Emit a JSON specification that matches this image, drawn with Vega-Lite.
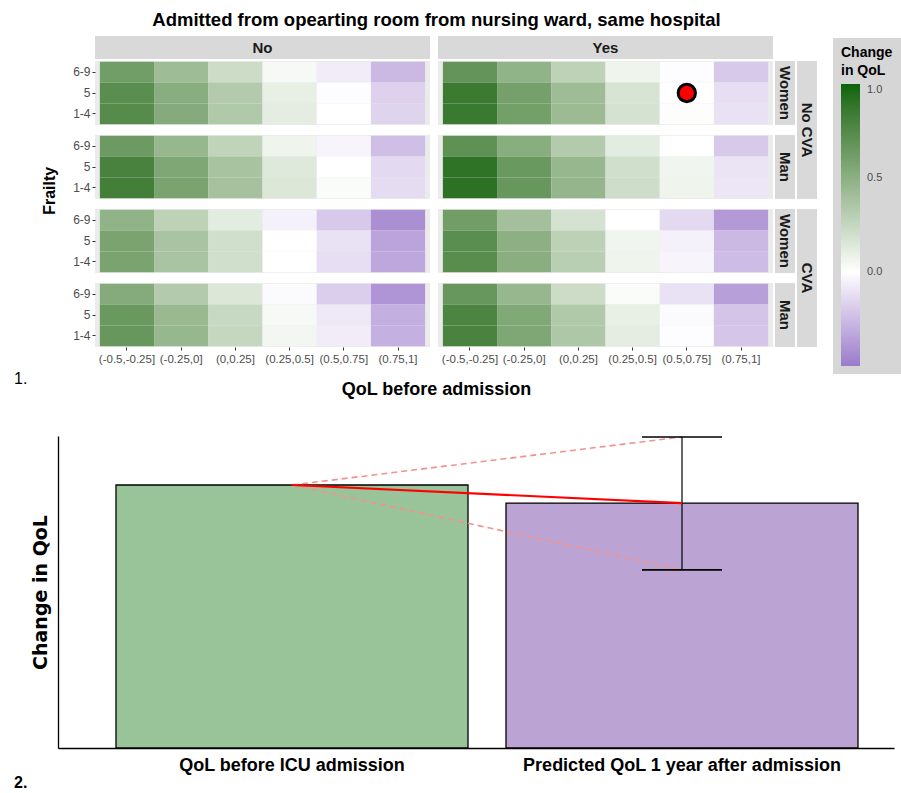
{
  "$schema": "https://vega.github.io/schema/vega-lite/v6.json",
  "background": "#ffffff",
  "padding": {"left": 14, "top": 10, "right": 0, "bottom": 0},
  "spacing": 34,
  "datasets": {
    "nn_w": [
      {"frailty":"6-9","qol":"(-0.5,-0.25]","change":0.62},{"frailty":"6-9","qol":"(-0.25,0]","change":0.42},{"frailty":"6-9","qol":"(0,0.25]","change":0.22},{"frailty":"6-9","qol":"(0.25,0.5]","change":0.04},{"frailty":"6-9","qol":"(0.5,0.75]","change":-0.07},{"frailty":"6-9","qol":"(0.75,1]","change":-0.26},
      {"frailty":"5","qol":"(-0.5,-0.25]","change":0.72},{"frailty":"5","qol":"(-0.25,0]","change":0.52},{"frailty":"5","qol":"(0,0.25]","change":0.33},{"frailty":"5","qol":"(0.25,0.5]","change":0.10},{"frailty":"5","qol":"(0.5,0.75]","change":-0.01},{"frailty":"5","qol":"(0.75,1]","change":-0.17},
      {"frailty":"1-4","qol":"(-0.5,-0.25]","change":0.74},{"frailty":"1-4","qol":"(-0.25,0]","change":0.53},{"frailty":"1-4","qol":"(0,0.25]","change":0.34},{"frailty":"1-4","qol":"(0.25,0.5]","change":0.11},{"frailty":"1-4","qol":"(0.5,0.75]","change":0.00},{"frailty":"1-4","qol":"(0.75,1]","change":-0.16}
    ],
    "nn_m": [
      {"frailty":"6-9","qol":"(-0.5,-0.25]","change":0.64},{"frailty":"6-9","qol":"(-0.25,0]","change":0.45},{"frailty":"6-9","qol":"(0,0.25]","change":0.27},{"frailty":"6-9","qol":"(0.25,0.5]","change":0.07},{"frailty":"6-9","qol":"(0.5,0.75]","change":-0.04},{"frailty":"6-9","qol":"(0.75,1]","change":-0.24},
      {"frailty":"5","qol":"(-0.5,-0.25]","change":0.80},{"frailty":"5","qol":"(-0.25,0]","change":0.56},{"frailty":"5","qol":"(0,0.25]","change":0.38},{"frailty":"5","qol":"(0.25,0.5]","change":0.14},{"frailty":"5","qol":"(0.5,0.75]","change":0.00},{"frailty":"5","qol":"(0.75,1]","change":-0.14},
      {"frailty":"1-4","qol":"(-0.5,-0.25]","change":0.82},{"frailty":"1-4","qol":"(-0.25,0]","change":0.58},{"frailty":"1-4","qol":"(0,0.25]","change":0.39},{"frailty":"1-4","qol":"(0.25,0.5]","change":0.15},{"frailty":"1-4","qol":"(0.5,0.75]","change":0.02},{"frailty":"1-4","qol":"(0.75,1]","change":-0.13}
    ],
    "nc_w": [
      {"frailty":"6-9","qol":"(-0.5,-0.25]","change":0.48},{"frailty":"6-9","qol":"(-0.25,0]","change":0.28},{"frailty":"6-9","qol":"(0,0.25]","change":0.12},{"frailty":"6-9","qol":"(0.25,0.5]","change":-0.05},{"frailty":"6-9","qol":"(0.5,0.75]","change":-0.20},{"frailty":"6-9","qol":"(0.75,1]","change":-0.42},
      {"frailty":"5","qol":"(-0.5,-0.25]","change":0.58},{"frailty":"5","qol":"(-0.25,0]","change":0.37},{"frailty":"5","qol":"(0,0.25]","change":0.20},{"frailty":"5","qol":"(0.25,0.5]","change":0.00},{"frailty":"5","qol":"(0.5,0.75]","change":-0.11},{"frailty":"5","qol":"(0.75,1]","change":-0.34},
      {"frailty":"1-4","qol":"(-0.5,-0.25]","change":0.58},{"frailty":"1-4","qol":"(-0.25,0]","change":0.37},{"frailty":"1-4","qol":"(0,0.25]","change":0.20},{"frailty":"1-4","qol":"(0.25,0.5]","change":0.00},{"frailty":"1-4","qol":"(0.5,0.75]","change":-0.12},{"frailty":"1-4","qol":"(0.75,1]","change":-0.33}
    ],
    "nc_m": [
      {"frailty":"6-9","qol":"(-0.5,-0.25]","change":0.53},{"frailty":"6-9","qol":"(-0.25,0]","change":0.33},{"frailty":"6-9","qol":"(0,0.25]","change":0.15},{"frailty":"6-9","qol":"(0.25,0.5]","change":-0.02},{"frailty":"6-9","qol":"(0.5,0.75]","change":-0.18},{"frailty":"6-9","qol":"(0.75,1]","change":-0.40},
      {"frailty":"5","qol":"(-0.5,-0.25]","change":0.65},{"frailty":"5","qol":"(-0.25,0]","change":0.44},{"frailty":"5","qol":"(0,0.25]","change":0.24},{"frailty":"5","qol":"(0.25,0.5]","change":0.04},{"frailty":"5","qol":"(0.5,0.75]","change":-0.08},{"frailty":"5","qol":"(0.75,1]","change":-0.30},
      {"frailty":"1-4","qol":"(-0.5,-0.25]","change":0.66},{"frailty":"1-4","qol":"(-0.25,0]","change":0.45},{"frailty":"1-4","qol":"(0,0.25]","change":0.25},{"frailty":"1-4","qol":"(0.25,0.5]","change":0.05},{"frailty":"1-4","qol":"(0.5,0.75]","change":-0.07},{"frailty":"1-4","qol":"(0.75,1]","change":-0.29}
    ],
    "yn_w": [
      {"frailty":"6-9","qol":"(-0.5,-0.25]","change":0.68},{"frailty":"6-9","qol":"(-0.25,0]","change":0.48},{"frailty":"6-9","qol":"(0,0.25]","change":0.28},{"frailty":"6-9","qol":"(0.25,0.5]","change":0.07},{"frailty":"6-9","qol":"(0.5,0.75]","change":-0.01},{"frailty":"6-9","qol":"(0.75,1]","change":-0.20},
      {"frailty":"5","qol":"(-0.5,-0.25]","change":0.85},{"frailty":"5","qol":"(-0.25,0]","change":0.60},{"frailty":"5","qol":"(0,0.25]","change":0.42},{"frailty":"5","qol":"(0.25,0.5]","change":0.17},{"frailty":"5","qol":"(0.5,0.75]","change":0.00},{"frailty":"5","qol":"(0.75,1]","change":-0.12},
      {"frailty":"1-4","qol":"(-0.5,-0.25]","change":0.86},{"frailty":"1-4","qol":"(-0.25,0]","change":0.61},{"frailty":"1-4","qol":"(0,0.25]","change":0.43},{"frailty":"1-4","qol":"(0.25,0.5]","change":0.18},{"frailty":"1-4","qol":"(0.5,0.75]","change":0.01},{"frailty":"1-4","qol":"(0.75,1]","change":-0.11}
    ],
    "yn_m": [
      {"frailty":"6-9","qol":"(-0.5,-0.25]","change":0.70},{"frailty":"6-9","qol":"(-0.25,0]","change":0.52},{"frailty":"6-9","qol":"(0,0.25]","change":0.33},{"frailty":"6-9","qol":"(0.25,0.5]","change":0.12},{"frailty":"6-9","qol":"(0.5,0.75]","change":0.00},{"frailty":"6-9","qol":"(0.75,1]","change":-0.20},
      {"frailty":"5","qol":"(-0.5,-0.25]","change":0.90},{"frailty":"5","qol":"(-0.25,0]","change":0.65},{"frailty":"5","qol":"(0,0.25]","change":0.45},{"frailty":"5","qol":"(0.25,0.5]","change":0.20},{"frailty":"5","qol":"(0.5,0.75]","change":0.06},{"frailty":"5","qol":"(0.75,1]","change":-0.10},
      {"frailty":"1-4","qol":"(-0.5,-0.25]","change":0.91},{"frailty":"1-4","qol":"(-0.25,0]","change":0.66},{"frailty":"1-4","qol":"(0,0.25]","change":0.46},{"frailty":"1-4","qol":"(0.25,0.5]","change":0.21},{"frailty":"1-4","qol":"(0.5,0.75]","change":0.07},{"frailty":"1-4","qol":"(0.75,1]","change":-0.09}
    ],
    "yc_w": [
      {"frailty":"6-9","qol":"(-0.5,-0.25]","change":0.62},{"frailty":"6-9","qol":"(-0.25,0]","change":0.40},{"frailty":"6-9","qol":"(0,0.25]","change":0.18},{"frailty":"6-9","qol":"(0.25,0.5]","change":0.00},{"frailty":"6-9","qol":"(0.5,0.75]","change":-0.14},{"frailty":"6-9","qol":"(0.75,1]","change":-0.38},
      {"frailty":"5","qol":"(-0.5,-0.25]","change":0.72},{"frailty":"5","qol":"(-0.25,0]","change":0.50},{"frailty":"5","qol":"(0,0.25]","change":0.29},{"frailty":"5","qol":"(0.25,0.5]","change":0.06},{"frailty":"5","qol":"(0.5,0.75]","change":-0.05},{"frailty":"5","qol":"(0.75,1]","change":-0.26},
      {"frailty":"1-4","qol":"(-0.5,-0.25]","change":0.73},{"frailty":"1-4","qol":"(-0.25,0]","change":0.51},{"frailty":"1-4","qol":"(0,0.25]","change":0.30},{"frailty":"1-4","qol":"(0.25,0.5]","change":0.07},{"frailty":"1-4","qol":"(0.5,0.75]","change":-0.04},{"frailty":"1-4","qol":"(0.75,1]","change":-0.25}
    ],
    "yc_m": [
      {"frailty":"6-9","qol":"(-0.5,-0.25]","change":0.66},{"frailty":"6-9","qol":"(-0.25,0]","change":0.45},{"frailty":"6-9","qol":"(0,0.25]","change":0.22},{"frailty":"6-9","qol":"(0.25,0.5]","change":0.02},{"frailty":"6-9","qol":"(0.5,0.75]","change":-0.11},{"frailty":"6-9","qol":"(0.75,1]","change":-0.36},
      {"frailty":"5","qol":"(-0.5,-0.25]","change":0.78},{"frailty":"5","qol":"(-0.25,0]","change":0.55},{"frailty":"5","qol":"(0,0.25]","change":0.34},{"frailty":"5","qol":"(0.25,0.5]","change":0.10},{"frailty":"5","qol":"(0.5,0.75]","change":-0.02},{"frailty":"5","qol":"(0.75,1]","change":-0.22},
      {"frailty":"1-4","qol":"(-0.5,-0.25]","change":0.79},{"frailty":"1-4","qol":"(-0.25,0]","change":0.56},{"frailty":"1-4","qol":"(0,0.25]","change":0.35},{"frailty":"1-4","qol":"(0.25,0.5]","change":0.11},{"frailty":"1-4","qol":"(0.5,0.75]","change":-0.01},{"frailty":"1-4","qol":"(0.75,1]","change":-0.21}
    ],
    "highlight": [{"frailty":"5","qol":"(0.5,0.75]"}],
    "bars": [
      {"cat":"QoL before ICU admission","qol":0.843},
      {"cat":"Predicted QoL 1 year after admission","qol":0.785}
    ],
    "links": [
      {"line":"estimate","cat":"QoL before ICU admission","qol":0.843},
      {"line":"estimate","cat":"Predicted QoL 1 year after admission","qol":0.785},
      {"line":"upper","cat":"QoL before ICU admission","qol":0.843},
      {"line":"upper","cat":"Predicted QoL 1 year after admission","qol":0.997},
      {"line":"lower","cat":"QoL before ICU admission","qol":0.843},
      {"line":"lower","cat":"Predicted QoL 1 year after admission","qol":0.571}
    ],
    "interval": [
      {"cat":"Predicted QoL 1 year after admission","bound":"lower","qol":0.571},
      {"cat":"Predicted QoL 1 year after admission","bound":"upper","qol":0.997}
    ]
  },
  "vconcat": [
    {
      "title": {"text": "Admitted from opearting room from nursing ward, same hospital", "anchor": "middle", "fontSize": 18.5, "fontWeight": "bold", "color": "#000000", "offset": 7, "dx": 21},
      "vconcat": [
        {
          "title": {"text": "QoL before admission", "orient": "bottom", "anchor": "middle", "fontSize": 18, "fontWeight": "bold", "color": "#000000", "offset": -6, "dx": 21},
          "spacing": 8,
          "hconcat": [
            {
              "width": 50, "height": 348,
              "layer": [
                {"data": {"values": [{"t": "Frailty"}]}, "mark": {"type": "text", "angle": 270, "fontSize": 16, "fontWeight": "bold", "color": "#000000"},
                 "encoding": {"text": {"field": "t"}, "x": {"datum": 0.72, "type": "quantitative", "scale": {"domain": [0, 1]}, "axis": null}, "y": {"datum": 0.555, "type": "quantitative", "scale": {"domain": [0, 1]}, "axis": null}}},
                {"data": {"values": [{"t": "1."}]}, "mark": {"type": "text", "align": "left", "baseline": "alphabetic", "fontSize": 16, "color": "#000000"},
                 "encoding": {"text": {"field": "t"}, "x": {"datum": 0, "type": "quantitative", "scale": {"domain": [0, 1]}, "axis": null}, "y": {"datum": 0, "type": "quantitative", "scale": {"domain": [0, 1]}, "axis": null}}}
              ]
            },
            {
              "spacing": 2,
              "vconcat": [
                {"width": 335, "height": 23, "view": {"fill": "#d9d9d9", "stroke": null}, "data": {"values": [{"t": "No"}]}, "mark": {"type": "text", "fontSize": 15, "fontWeight": "bold", "color": "#1a1a1a"}, "encoding": {"text": {"field": "t"}}},
                {
                  "spacing": 10,
                  "vconcat": [
                    {"width": 335, "height": 64, "view": {"fill": "#ebebeb", "stroke": null}, "data": {"name": "nn_w"}, "mark": {"type": "rect"},
                     "encoding": {
                       "x": {"field": "qol", "type": "nominal", "scale": {"domain": ["(-0.5,-0.25]","(-0.25,0]","(0,0.25]","(0.25,0.5]","(0.5,0.75]","(0.75,1]"], "paddingInner": 0, "paddingOuter": 0.09}, "axis": null},
                       "y": {"field": "frailty", "type": "nominal", "scale": {"domain": ["6-9","5","1-4"], "paddingInner": 0, "paddingOuter": 0.04}, "axis": {"title": null, "domain": false, "tickSize": 3, "tickColor": "#333333", "labelColor": "#4d4d4d", "labelFontSize": 12, "labelPadding": 2}},
                       "color": {"field": "change", "type": "quantitative", "scale": {"type": "linear", "domain": [-0.5, 0, 1], "range": ["#9a7cca", "#ffffff", "#0b640b"], "interpolate": "lab"},
                         "legend": {"orient": "none", "legendX": 819, "legendY": 2, "direction": "vertical", "title": ["Change", "in QoL"], "titleFontSize": 14, "titleFontWeight": "bold", "titleColor": "#000000", "titleLineHeight": 18, "titlePadding": 6, "gradientLength": 282, "gradientThickness": 19, "gradientStrokeWidth": 0, "values": [0, 0.5, 1], "format": ".1f", "labelFontSize": 11, "labelColor": "#4d4d4d", "labelOffset": 7, "fillColor": "#d6d6d6", "padding": 8}}
                     }},
                    {"width": 335, "height": 64, "view": {"fill": "#ebebeb", "stroke": null}, "data": {"name": "nn_m"}, "mark": {"type": "rect"},
                     "encoding": {
                       "x": {"field": "qol", "type": "nominal", "scale": {"domain": ["(-0.5,-0.25]","(-0.25,0]","(0,0.25]","(0.25,0.5]","(0.5,0.75]","(0.75,1]"], "paddingInner": 0, "paddingOuter": 0.09}, "axis": null},
                       "y": {"field": "frailty", "type": "nominal", "scale": {"domain": ["6-9","5","1-4"], "paddingInner": 0, "paddingOuter": 0.04}, "axis": {"title": null, "domain": false, "tickSize": 3, "tickColor": "#333333", "labelColor": "#4d4d4d", "labelFontSize": 12, "labelPadding": 2}},
                       "color": {"field": "change", "type": "quantitative", "scale": {"type": "linear", "domain": [-0.5, 0, 1], "range": ["#9a7cca", "#ffffff", "#0b640b"], "interpolate": "lab"}, "legend": null}
                     }},
                    {"width": 335, "height": 64, "view": {"fill": "#ebebeb", "stroke": null}, "data": {"name": "nc_w"}, "mark": {"type": "rect"},
                     "encoding": {
                       "x": {"field": "qol", "type": "nominal", "scale": {"domain": ["(-0.5,-0.25]","(-0.25,0]","(0,0.25]","(0.25,0.5]","(0.5,0.75]","(0.75,1]"], "paddingInner": 0, "paddingOuter": 0.09}, "axis": null},
                       "y": {"field": "frailty", "type": "nominal", "scale": {"domain": ["6-9","5","1-4"], "paddingInner": 0, "paddingOuter": 0.04}, "axis": {"title": null, "domain": false, "tickSize": 3, "tickColor": "#333333", "labelColor": "#4d4d4d", "labelFontSize": 12, "labelPadding": 2}},
                       "color": {"field": "change", "type": "quantitative", "scale": {"type": "linear", "domain": [-0.5, 0, 1], "range": ["#9a7cca", "#ffffff", "#0b640b"], "interpolate": "lab"}, "legend": null}
                     }},
                    {"width": 335, "height": 64, "view": {"fill": "#ebebeb", "stroke": null}, "data": {"name": "nc_m"}, "mark": {"type": "rect"},
                     "encoding": {
                       "x": {"field": "qol", "type": "nominal", "scale": {"domain": ["(-0.5,-0.25]","(-0.25,0]","(0,0.25]","(0.25,0.5]","(0.5,0.75]","(0.75,1]"], "paddingInner": 0, "paddingOuter": 0.09}, "axis": {"title": null, "domain": false, "tickSize": 3, "tickColor": "#333333", "labelColor": "#4d4d4d", "labelFontSize": 11.5, "labelPadding": 3, "labelAngle": 0, "labelOverlap": false, "labelLimit": 0}},
                       "y": {"field": "frailty", "type": "nominal", "scale": {"domain": ["6-9","5","1-4"], "paddingInner": 0, "paddingOuter": 0.04}, "axis": {"title": null, "domain": false, "tickSize": 3, "tickColor": "#333333", "labelColor": "#4d4d4d", "labelFontSize": 12, "labelPadding": 2}},
                       "color": {"field": "change", "type": "quantitative", "scale": {"type": "linear", "domain": [-0.5, 0, 1], "range": ["#9a7cca", "#ffffff", "#0b640b"], "interpolate": "lab"}, "legend": null}
                     }}
                  ]
                }
              ]
            },
            {
              "spacing": 2,
              "hconcat": [
                {
                  "spacing": 2,
                  "vconcat": [
                    {"width": 335, "height": 23, "view": {"fill": "#d9d9d9", "stroke": null}, "data": {"values": [{"t": "Yes"}]}, "mark": {"type": "text", "fontSize": 15, "fontWeight": "bold", "color": "#1a1a1a"}, "encoding": {"text": {"field": "t"}}},
                    {
                      "spacing": 10,
                      "vconcat": [
                        {"width": 335, "height": 64, "view": {"fill": "#ebebeb", "stroke": null},
                         "layer": [
                           {"data": {"name": "yn_w"}, "mark": {"type": "rect"},
                            "encoding": {
                              "x": {"field": "qol", "type": "nominal", "scale": {"domain": ["(-0.5,-0.25]","(-0.25,0]","(0,0.25]","(0.25,0.5]","(0.5,0.75]","(0.75,1]"], "paddingInner": 0, "paddingOuter": 0.09}, "axis": null},
                              "y": {"field": "frailty", "type": "nominal", "scale": {"domain": ["6-9","5","1-4"], "paddingInner": 0, "paddingOuter": 0.04}, "axis": null},
                              "color": {"field": "change", "type": "quantitative", "scale": {"type": "linear", "domain": [-0.5, 0, 1], "range": ["#9a7cca", "#ffffff", "#0b640b"], "interpolate": "lab"}, "legend": null}
                            }},
                           {"data": {"name": "highlight"}, "mark": {"type": "point", "shape": "circle", "filled": true, "fill": "#ff0000", "stroke": "#000000", "strokeWidth": 3, "size": 300, "opacity": 1},
                            "encoding": {
                              "x": {"field": "qol", "type": "nominal", "scale": {"domain": ["(-0.5,-0.25]","(-0.25,0]","(0,0.25]","(0.25,0.5]","(0.5,0.75]","(0.75,1]"], "paddingInner": 0, "paddingOuter": 0.09}, "axis": null},
                              "y": {"field": "frailty", "type": "nominal", "scale": {"domain": ["6-9","5","1-4"], "paddingInner": 0, "paddingOuter": 0.04}, "axis": null}
                            }}
                         ]},
                        {"width": 335, "height": 64, "view": {"fill": "#ebebeb", "stroke": null}, "data": {"name": "yn_m"}, "mark": {"type": "rect"},
                         "encoding": {
                           "x": {"field": "qol", "type": "nominal", "scale": {"domain": ["(-0.5,-0.25]","(-0.25,0]","(0,0.25]","(0.25,0.5]","(0.5,0.75]","(0.75,1]"], "paddingInner": 0, "paddingOuter": 0.09}, "axis": null},
                           "y": {"field": "frailty", "type": "nominal", "scale": {"domain": ["6-9","5","1-4"], "paddingInner": 0, "paddingOuter": 0.04}, "axis": null},
                           "color": {"field": "change", "type": "quantitative", "scale": {"type": "linear", "domain": [-0.5, 0, 1], "range": ["#9a7cca", "#ffffff", "#0b640b"], "interpolate": "lab"}, "legend": null}
                         }},
                        {"width": 335, "height": 64, "view": {"fill": "#ebebeb", "stroke": null}, "data": {"name": "yc_w"}, "mark": {"type": "rect"},
                         "encoding": {
                           "x": {"field": "qol", "type": "nominal", "scale": {"domain": ["(-0.5,-0.25]","(-0.25,0]","(0,0.25]","(0.25,0.5]","(0.5,0.75]","(0.75,1]"], "paddingInner": 0, "paddingOuter": 0.09}, "axis": null},
                           "y": {"field": "frailty", "type": "nominal", "scale": {"domain": ["6-9","5","1-4"], "paddingInner": 0, "paddingOuter": 0.04}, "axis": null},
                           "color": {"field": "change", "type": "quantitative", "scale": {"type": "linear", "domain": [-0.5, 0, 1], "range": ["#9a7cca", "#ffffff", "#0b640b"], "interpolate": "lab"}, "legend": null}
                         }},
                        {"width": 335, "height": 64, "view": {"fill": "#ebebeb", "stroke": null}, "data": {"name": "yc_m"}, "mark": {"type": "rect"},
                         "encoding": {
                           "x": {"field": "qol", "type": "nominal", "scale": {"domain": ["(-0.5,-0.25]","(-0.25,0]","(0,0.25]","(0.25,0.5]","(0.5,0.75]","(0.75,1]"], "paddingInner": 0, "paddingOuter": 0.09}, "axis": {"title": null, "domain": false, "tickSize": 3, "tickColor": "#333333", "labelColor": "#4d4d4d", "labelFontSize": 11.5, "labelPadding": 3, "labelAngle": 0, "labelOverlap": false, "labelLimit": 0}},
                           "y": {"field": "frailty", "type": "nominal", "scale": {"domain": ["6-9","5","1-4"], "paddingInner": 0, "paddingOuter": 0.04}, "axis": null},
                           "color": {"field": "change", "type": "quantitative", "scale": {"type": "linear", "domain": [-0.5, 0, 1], "range": ["#9a7cca", "#ffffff", "#0b640b"], "interpolate": "lab"}, "legend": null}
                         }}
                      ]
                    }
                  ]
                },
                {
                  "spacing": 2,
                  "vconcat": [
                    {"width": 20, "height": 23, "data": {"values": [{"t": ""}]}, "mark": {"type": "text"}, "encoding": {"text": {"field": "t"}}},
                    {
                      "spacing": 10,
                      "vconcat": [
                        {"width": 20, "height": 64, "view": {"fill": "#d9d9d9", "stroke": null}, "data": {"values": [{"t": "Women"}]}, "mark": {"type": "text", "angle": 90, "fontSize": 15, "fontWeight": "bold", "color": "#1a1a1a"}, "encoding": {"text": {"field": "t"}}},
                        {"width": 20, "height": 64, "view": {"fill": "#d9d9d9", "stroke": null}, "data": {"values": [{"t": "Man"}]}, "mark": {"type": "text", "angle": 90, "fontSize": 15, "fontWeight": "bold", "color": "#1a1a1a"}, "encoding": {"text": {"field": "t"}}},
                        {"width": 20, "height": 64, "view": {"fill": "#d9d9d9", "stroke": null}, "data": {"values": [{"t": "Women"}]}, "mark": {"type": "text", "angle": 90, "fontSize": 15, "fontWeight": "bold", "color": "#1a1a1a"}, "encoding": {"text": {"field": "t"}}},
                        {"width": 20, "height": 64, "view": {"fill": "#d9d9d9", "stroke": null}, "data": {"values": [{"t": "Man"}]}, "mark": {"type": "text", "angle": 90, "fontSize": 15, "fontWeight": "bold", "color": "#1a1a1a"}, "encoding": {"text": {"field": "t"}}}
                      ]
                    }
                  ]
                },
                {
                  "spacing": 2,
                  "vconcat": [
                    {"width": 20, "height": 23, "data": {"values": [{"t": ""}]}, "mark": {"type": "text"}, "encoding": {"text": {"field": "t"}}},
                    {
                      "spacing": 10,
                      "vconcat": [
                        {"width": 20, "height": 138, "view": {"fill": "#d9d9d9", "stroke": null}, "data": {"values": [{"t": "No CVA"}]}, "mark": {"type": "text", "angle": 90, "fontSize": 15, "fontWeight": "bold", "color": "#1a1a1a"}, "encoding": {"text": {"field": "t"}}},
                        {"width": 20, "height": 138, "view": {"fill": "#d9d9d9", "stroke": null}, "data": {"values": [{"t": "CVA"}]}, "mark": {"type": "text", "angle": 90, "fontSize": 15, "fontWeight": "bold", "color": "#1a1a1a"}, "encoding": {"text": {"field": "t"}}}
                      ]
                    }
                  ]
                }
              ]
            }
          ]
        }
      ]
    },
    {
      "spacing": 3,
      "hconcat": [
        {"width": 13, "height": 352, "data": {"values": [{"t": "2."}]}, "mark": {"type": "text", "align": "left", "baseline": "alphabetic", "fontSize": 16, "fontWeight": "bold", "color": "#000000"},
         "encoding": {"text": {"field": "t"}, "x": {"datum": 0, "type": "quantitative", "scale": {"domain": [0, 1]}, "axis": null}, "y": {"datum": 0, "type": "quantitative", "scale": {"domain": [0, 1]}, "axis": null}}},
        {
          "width": 836, "height": 312,
          "encoding": {
            "x": {"field": "cat", "type": "nominal", "scale": {"domain": ["QoL before ICU admission", "Predicted QoL 1 year after admission"], "paddingInner": 0.0974, "paddingOuter": 0.1205, "align": 0.617},
                  "axis": {"title": null, "domainColor": "#000000", "domainWidth": 1.3, "ticks": false, "labelAngle": 0, "labelFontSize": 18, "labelFontWeight": "bold", "labelColor": "#000000", "labelPadding": 8, "labelLimit": 0}},
            "y": {"field": "qol", "type": "quantitative", "scale": {"domain": [0, 1], "nice": false},
                  "axis": {"title": "Change in QoL", "titleFont": "DejaVu Sans", "titleFontSize": 19, "titleFontWeight": "bold", "titleColor": "#000000", "titlePadding": 8, "domainColor": "#000000", "domainWidth": 1.3, "ticks": false, "labels": false, "grid": false}}
          },
          "layer": [
            {"data": {"name": "bars"}, "mark": {"type": "bar", "stroke": "#000000", "strokeWidth": 1.3},
             "encoding": {"fill": {"condition": {"test": "datum.cat === 'QoL before ICU admission'", "value": "#99c49a"}, "value": "#bba3d3"}}},
            {"data": {"name": "links"}, "transform": [{"filter": "datum.line !== 'estimate'"}], "mark": {"type": "line", "color": "#f3928c", "strokeDash": [6, 4], "strokeWidth": 1.6},
             "encoding": {"detail": {"field": "line", "type": "nominal"}}},
            {"data": {"name": "interval"}, "mark": {"type": "line", "color": "#000000", "strokeWidth": 1.2}},
            {"data": {"name": "interval"}, "mark": {"type": "tick", "color": "#000000", "size": 80, "thickness": 1.6, "opacity": 1}},
            {"data": {"name": "links"}, "transform": [{"filter": "datum.line === 'estimate'"}], "mark": {"type": "line", "color": "#ff0000", "strokeWidth": 2.2}}
          ]
        }
      ]
    }
  ],
  "config": {
    "view": {"stroke": null},
    "font": "Liberation Sans",
    "axis": {"grid": false}
  }
}
